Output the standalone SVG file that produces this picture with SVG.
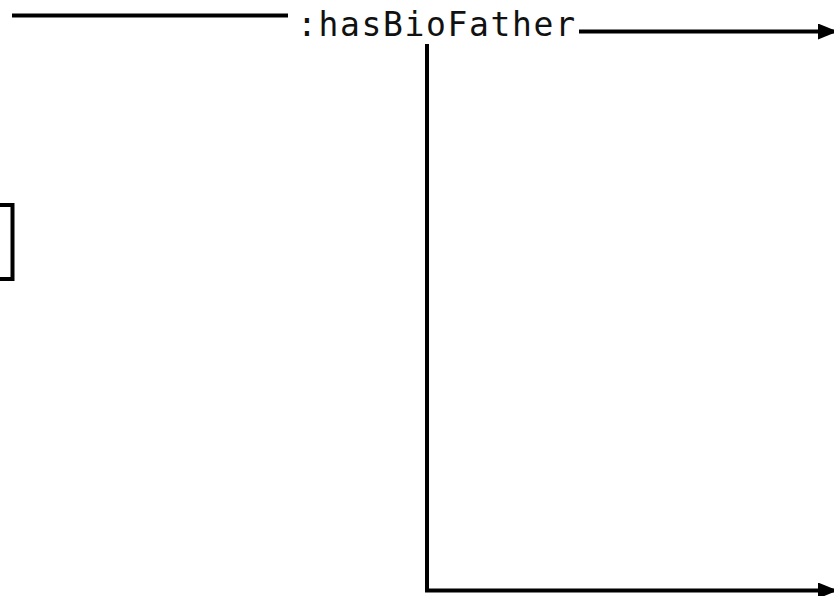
<svg xmlns="http://www.w3.org/2000/svg" width="834" height="596" viewBox="0 0 834 596">
  <style>
    .edge { fill: none; stroke: #000; stroke-width: 4; }
    .node { fill: #fff; stroke: #000; stroke-width: 4; }
    .label { font-family: "DejaVu Sans Mono", "Liberation Mono", monospace; font-size: 33px; fill: #111; }
  </style>
  <defs>
    <marker id="arrow" viewBox="0 0 20 16" refX="20" refY="8" markerWidth="20" markerHeight="16" markerUnits="userSpaceOnUse" orient="auto">
      <path d="M0,0 L20,8 L0,16 Z" fill="#000"/>
    </marker>
  </defs>
  <g id="node-left">
    <rect class="node" x="-10" y="205" width="22.5" height="74"/>
  </g>
  <g id="connectors">
    <path class="edge" d="M12,15.5 L288,15.5"/>
    <text class="label" x="297" y="35.5" textLength="278" lengthAdjust="spacing">:hasBioFather</text>
    <path class="edge" d="M579,31.5 L838,31.5" marker-end="url(#arrow)"/>
    <path class="edge" d="M427,44 L427,590.5 L838,590.5" marker-end="url(#arrow)"/>
  </g>
</svg>
